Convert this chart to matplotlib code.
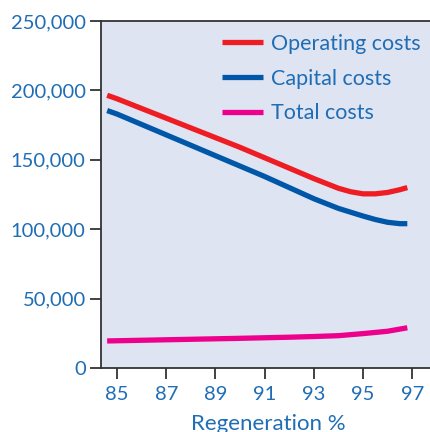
import matplotlib.pyplot as plt
from matplotlib.ticker import FuncFormatter

plt.rcParams['font.family'] = ['Lato', 'DejaVu Sans']

# values
x_operating = [84.6, 85, 86, 87, 88, 89, 90, 91, 92, 93, 94, 94.5, 95, 95.5, 96, 96.5, 96.8]
operating = [196500, 194000, 187000, 180000, 173000, 166000, 159000, 151500, 144000,
             136500, 129500, 127000, 125500, 125500, 126500, 128500, 130000]

x_capital = [84.6, 85, 86, 87, 88, 89, 90, 91, 92, 93, 94, 95, 95.5, 96, 96.5, 96.8]
capital = [185500, 183000, 175500, 168000, 160500, 153000, 145500, 138000, 130000,
           122000, 115000, 109500, 107000, 105000, 104000, 104000]

x_total = [84.6, 86, 88, 90, 92, 93, 94, 95, 96, 96.8]
total = [19500, 20000, 20700, 21400, 22200, 22700, 23300, 24800, 26500, 29000]

x_ticks = [85, 87, 89, 91, 93, 95, 97]
y_ticks = [0, 50000, 100000, 150000, 200000, 250000]

text_blue = '#1f6db5'
spine_col = '#333333'

fig = plt.figure(figsize=(4.3, 4.32), dpi=100)
ax = fig.add_axes([0.2349, 0.1481, 0.777, 0.8032])
ax.set_facecolor('#dfe4f2')

lw = 3.8
ax.plot(x_operating, operating, color='#ee1d23', lw=lw, solid_capstyle='butt', label='Operating costs')
ax.plot(x_capital, capital, color='#0057a8', lw=lw, solid_capstyle='butt', label='Capital costs')
ax.plot(x_total, total, color='#ec008c', lw=lw, solid_capstyle='butt', label='Total costs')

ax.set_xlim(84.35, 97.93)
ax.set_ylim(0, 250000)
ax.set_xticks(x_ticks)
ax.set_yticks(y_ticks)
ax.yaxis.set_major_formatter(FuncFormatter(lambda v, p: f'{int(v):,}'))

ax.tick_params(axis='both', direction='out', length=8, width=1.3, color=spine_col,
               labelcolor=text_blue, labelsize=14.5)
ax.tick_params(axis='x', pad=5)
ax.tick_params(axis='y', pad=3)
for s in ['left', 'bottom', 'top']:
    ax.spines[s].set_color(spine_col)
    ax.spines[s].set_linewidth(1.3)
ax.spines['right'].set_visible(False)

ax.set_xlabel('Regeneration %', color=text_blue, fontsize=16, labelpad=8)

leg = ax.legend(loc='upper right', bbox_to_anchor=(0.995, 1.0), frameon=False, fontsize=15.5,
                handlelength=1.9, handletextpad=0.35, labelspacing=0.68, borderaxespad=0.2)
for t in leg.get_texts():
    t.set_color(text_blue)

fig.savefig('out.png', dpi=100)
